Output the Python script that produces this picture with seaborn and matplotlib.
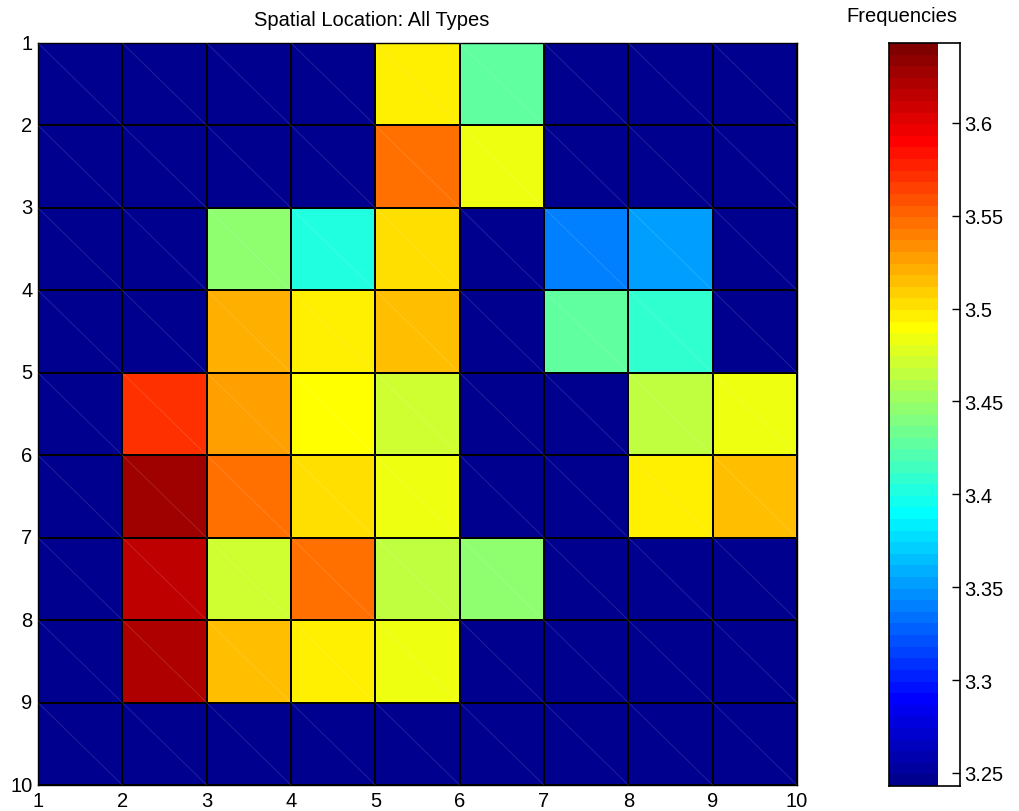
import numpy as np
import pandas as pd
import matplotlib
matplotlib.use("Agg")
import matplotlib.pyplot as plt
from matplotlib.colors import ListedColormap
import seaborn as sns

# ---- data ----
LOW = 3.243  # background value (minimum of the colour scale)
row1 = [LOW, LOW, LOW, LOW, 3.493, 3.427, LOW, LOW, LOW]
row2 = [LOW, LOW, LOW, LOW, 3.543, 3.481, LOW, LOW, LOW]
row3 = [LOW, LOW, 3.443, 3.405, 3.503, LOW, 3.338, 3.350, LOW]
row4 = [LOW, LOW, 3.524, 3.493, 3.512, LOW, 3.427, 3.408, LOW]
row5 = [LOW, 3.568, 3.530, 3.491, 3.468, LOW, LOW, 3.462, 3.481]
row6 = [LOW, 3.630, 3.549, 3.502, 3.484, LOW, LOW, 3.493, 3.515]
row7 = [LOW, 3.612, 3.474, 3.543, 3.462, 3.443, LOW, LOW, LOW]
row8 = [LOW, 3.618, 3.518, 3.499, 3.481, LOW, LOW, LOW, LOW]
row9 = [LOW, LOW, LOW, LOW, LOW, LOW, LOW, LOW, LOW]
x_tick_labels = ["1", "2", "3", "4", "5", "6", "7", "8", "9", "10"]
y_tick_labels = ["1", "2", "3", "4", "5", "6", "7", "8", "9", "10"]
cbar_ticks = [3.25, 3.3, 3.35, 3.4, 3.45, 3.5, 3.55, 3.6]
cbar_tick_labels = ["3.25", "3.3", "3.35", "3.4", "3.45", "3.5", "3.55", "3.6"]
VMIN, VMAX = 3.243, 3.643

title_text = "Spatial Location: All Types"
cbar_title = "Frequencies"

# ---- MATLAB-style jet(64) colormap ----
def matlab_jet(n=64):
    m = n // 4
    u = np.concatenate([np.arange(1, m + 1) / m, np.ones(m - 1), np.arange(m, 0, -1) / m])
    g = (n // 8) + np.arange(1, len(u) + 1)
    r = g + m
    b = g - m
    J = np.zeros((n, 3))
    gm = g[g <= n]
    rm = r[r <= n]
    bm = b[b >= 1]
    J[rm - 1, 0] = u[:len(rm)]
    J[gm - 1, 1] = u[:len(gm)]
    J[bm - 1, 2] = u[len(u) - len(bm):]
    return J

jet64 = ListedColormap(matlab_jet(64))

values = np.array([row1, row2, row3, row4, row5, row6, row7, row8, row9])
df = pd.DataFrame(values)

sns.set_theme(style="white")
plt.rcParams["font.family"] = ["Liberation Sans", "DejaVu Sans"]

FS = 14.5

fig = plt.figure(figsize=(10.19, 8.12), dpi=100)
ax = fig.add_axes([0.0373, 0.032, 0.7448, 0.9138])
sns.heatmap(df, ax=ax, cmap=jet64, vmin=VMIN, vmax=VMAX, cbar=False,
            linewidths=1.2, linecolor="black", square=False)

# faint diagonal rendering lines inside each cell
nr, nc = values.shape
for i in range(nr):
    for j in range(nc):
        ax.plot([j, j + 1], [i, i + 1], color="white", alpha=0.15, lw=0.6, zorder=3)

ax.set_xticks(np.arange(nc + 1))
ax.set_xticklabels(x_tick_labels, rotation=0)
ax.set_yticks(np.arange(nr + 1))
ax.set_yticklabels(y_tick_labels, rotation=0)
ax.tick_params(axis="both", length=0, labelsize=FS, colors="black", pad=4)
ax.set_xlim(0, nc)
ax.set_ylim(nr, 0)
ax.set_xlabel("")
ax.set_ylabel("")
for s in ax.spines.values():
    s.set_visible(True)
    s.set_color("black")
    s.set_linewidth(1.0)
fig.text(372 / 1019, 1 - 26 / 812, title_text, fontsize=FS, color="black",
         ha="center", va="baseline")

# ---- colorbar ----
cax = fig.add_axes([889 / 1019, 0.0308, 71 / 1019, 0.915])
edges = np.linspace(VMIN, VMAX, 65)
mids = (edges[:-1] + edges[1:]) / 2
cax.pcolormesh([0, 0.69], edges, mids.reshape(-1, 1), cmap=jet64, vmin=VMIN, vmax=VMAX,
               shading="flat")
cax.set_xlim(0, 1)
cax.set_ylim(VMIN, VMAX)
cax.set_xticks([])
cax.set_yticks(cbar_ticks)
cax.set_yticklabels(cbar_tick_labels)
cax.yaxis.set_ticks_position("both")
cax.tick_params(axis="y", direction="in", length=6, width=1, labelsize=FS,
                labelleft=False, labelright=True, colors="black", pad=3)
for s in cax.spines.values():
    s.set_visible(True)
    s.set_color("black")
    s.set_linewidth(1.2)
fig.text(902 / 1019, 1 - 22 / 812, cbar_title, fontsize=FS, color="black",
         ha="center", va="baseline")

fig.savefig("out.png", dpi=100, facecolor="white")
